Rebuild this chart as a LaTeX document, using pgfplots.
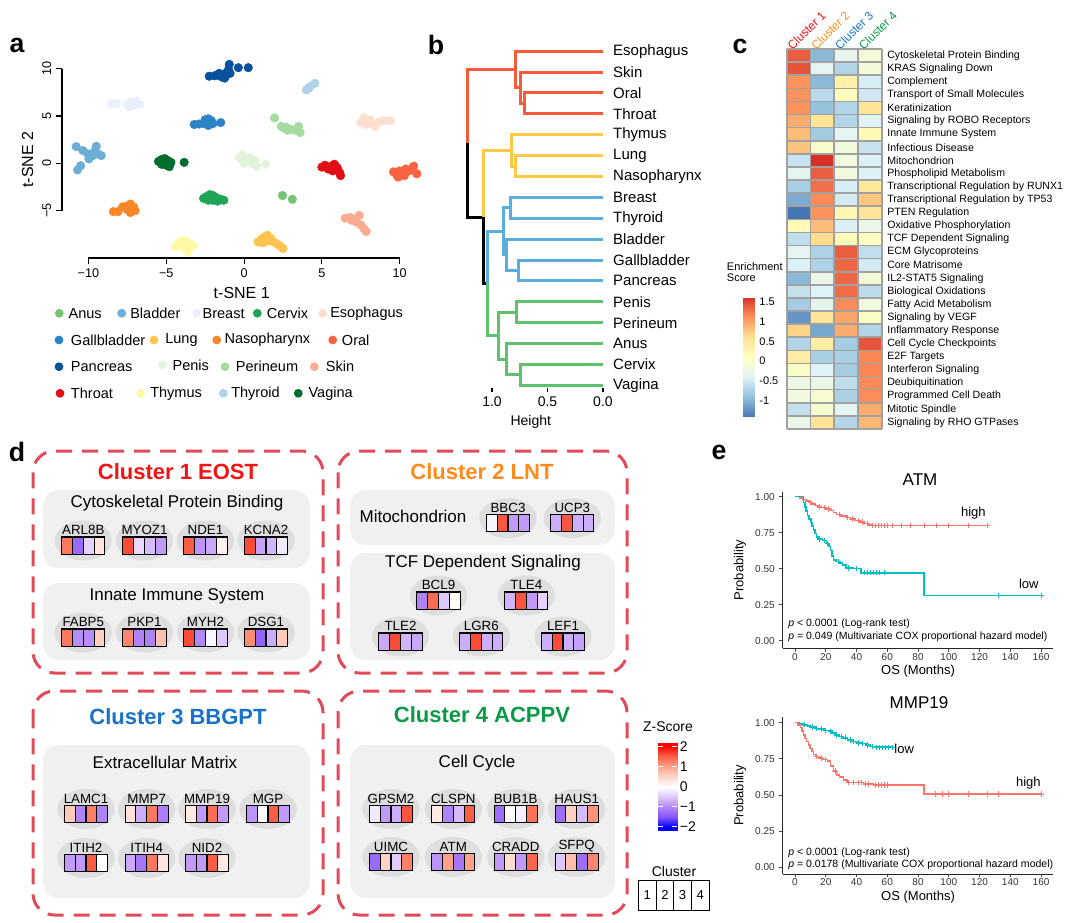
\documentclass[border=0pt]{standalone}
\usepackage{fontspec}
\setmainfont{Liberation Sans}
\usepackage{pgfplots}
\usepackage{pgfplotstable}
\pgfplotsset{compat=1.18}

\newcommand\fsz[1]{\fontsize{#1}{#1}\selectfont}

% tissue colours
\definecolor{cAnus}{HTML}{74C476}
\definecolor{cBladder}{HTML}{6BAED6}
\definecolor{cBreast}{HTML}{EAF0FB}
\definecolor{cCervix}{HTML}{1FA455}
\definecolor{cEsophagus}{HTML}{FDDFD2}
\definecolor{cGallbladder}{HTML}{2B84C6}
\definecolor{cLung}{HTML}{FEC44F}
\definecolor{cNaso}{HTML}{F98628}
\definecolor{cOral}{HTML}{FB6343}
\definecolor{cPancreas}{HTML}{08519C}
\definecolor{cPenis}{HTML}{E3F4DD}
\definecolor{cPerineum}{HTML}{A6DBA0}
\definecolor{cSkin}{HTML}{FCAD91}
\definecolor{cThroat}{HTML}{E00E14}
\definecolor{cThymus}{HTML}{FFF9A6}
\definecolor{cThyroid}{HTML}{B0D3EA}
\definecolor{cVagina}{HTML}{006D2C}
% dendrogram branches
\definecolor{dRed}{HTML}{FA5A3C}
\definecolor{dYel}{HTML}{FFC845}
\definecolor{dBlue}{HTML}{5AAEDC}
\definecolor{dGreen}{HTML}{5EC26C}
% cluster names
\definecolor{k1}{HTML}{F01414}
\definecolor{k2}{HTML}{FF8C1A}
\definecolor{k3}{HTML}{1873C8}
\definecolor{k4}{HTML}{0A9A45}
\definecolor{dashred}{HTML}{DF4B5B}
\definecolor{kmred}{HTML}{F8766D}
\definecolor{kmteal}{HTML}{00BFC4}

\pgfplotsset{
  colormap={rdylbu}{rgb255=(69,117,180) rgb255=(145,191,219) rgb255=(224,243,248)
    rgb255=(255,255,191) rgb255=(254,224,144) rgb255=(252,141,89) rgb255=(215,48,39)},
  colormap={zmap}{rgb255(0pt)=(0,0,255) rgb255(17pt)=(0,0,255) rgb255(67pt)=(135,85,250)
    rgb255(117pt)=(180,135,248) rgb255(167pt)=(222,200,251) rgb255(217pt)=(255,255,255)
    rgb255(267pt)=(255,212,198) rgb255(317pt)=(255,160,135) rgb255(367pt)=(250,95,70)
    rgb255(417pt)=(255,0,0) rgb255(434pt)=(255,0,0)},
  tsne/.style={only marks, mark=*, mark size=3.2pt, color=#1},
  dendro/.style={line width=2.25pt, line join=miter, unbounded coords=jump, color=#1},
  km/.style={scale only axis, width=203pt, xmin=-8, xmax=168,
    axis lines*=left, axis line style={line width=0.7pt, black!85},
    tick align=outside, major tick length=2.5pt, tick style={black!70, line width=0.6pt},
    xtick={0,20,...,160}, ytick={0,0.25,0.5,0.75,1},
    /pgf/number format/assume math mode=true,
    yticklabel style={/pgf/number format/fixed, /pgf/number format/fixed zerofill,
      /pgf/number format/precision=2},
    xticklabel style={yshift=2.5pt},
    ticklabel style={font=\fsz{7.5}, text=black!80},
    xlabel={OS (Months)}, ylabel={Probability},
    label style={font=\fsz{9.75}}, xlabel style={yshift=3pt},
    clip=false},
  kmline/.style={const plot, line width=1.2pt, no marks, color=#1},
  kmcens/.style={only marks, mark=+, mark size=2pt, line width=0.6pt, color=#1},
}

\pgfdeclareplotmark{cell}{%
  \pgfpathrectangle{\pgfqpoint{-4.05pt}{-6.4pt}}{\pgfqpoint{8.1pt}{12.8pt}}%
  \pgfusepathqfillstroke}

\pgfplotstableread{
name  cx    cy    v1    v2    v3    v4
ARL8B 83.3  545.5 1.3   -1.3  -0.4  0.3
MYOZ1 144.5 545.5 1.6   -0.35 -0.6  -0.85
NDE1  205.5 545.5 1.5   -0.9  -0.75 0.15
KCNA2 266   545.5 1.6   -0.8  -0.65 -0.2
FABP5 83.3  637.5 1.3   -0.95 -0.95 0.55
PKP1  144.5 637.5 1.2   -1.05 -1.05 0.7
MYH2  205.5 637.5 1.6   -1.0  -0.08 -0.5
DSG1  266   637.5 1.15  -1.35 -0.7  0.6
BBC3  508   523.3 -0.1  1.55  -0.85 -0.85
UCP3  572.3 523.3 -0.7  1.55  -0.7  -0.7
BCL9  438.5 600.5 -1.05 1.4   -0.5  0.05
TLE4  526.3 600.5 -0.65 1.55  -0.85 -0.4
TLE2  400.5 641.5 -0.75 1.6   -0.65 -0.75
LGR6  481.3 641.5 -0.7  1.6   -0.7  -0.7
LEF1  563   641.5 -0.7  1.6   -0.7  -0.8
LAMC1 86    814   0.6   -1.05 1.25  -1.05
MMP7  146.7 814   0.35  -0.7  1.3   -1.1
MMP19 207   814   0.25  -0.85 1.4   -0.85
MGP   268   814   -0.9  0.05  1.5   -0.85
ITIH2 86    863   -0.85 -0.85 1.5   0.0
ITIH4 146.7 863   -0.75 -1.15 1.3   0.3
NID2  207   863   -0.85 -0.85 1.5   0.25
GPSM2 391   814   -0.2  -0.85 -0.7  1.55
CLSPN 453.3 814   0.25  -1.05 -0.6  1.5
BUB1B 515.7 814   -1.25 0.05  -0.15 1.35
HAUS1 576.7 814   -1.25 0.55  -0.6  1.1
UIMC  391   862   -1.3  0.5   -0.45 1.25
ATM   453.3 862   -0.9  1.0   -1.15 1.0
CRADD 515.7 862   -0.85 0.4   -0.85 1.45
SFPQ  576.7 862   -0.5  0.7   -1.25 1.2
}\genes

\begin{document}
\begin{tikzpicture}[x=0.75pt,y=-0.75pt]
\useasboundingbox (0,0) rectangle (1080,923);

% ---------------- panel letters
\foreach \l/\x/\y in {a/17/45, b/436/45, c/740/46, d/17/452, e/719/452}
  \node[font=\bfseries\fsz{20}] at (\x,\y) {\l};

% ---------------- a: t-SNE
\coordinate (A) at (62,258);
\begin{axis}[at={(A)}, anchor=south west, scale only axis,
  width=269.6pt, height=147.7pt,
  xmin=-11.7, xmax=11.4, ymin=-10, ymax=10.8,
  axis lines*=left, axis line style={draw=none},
  tick align=outside, major tick length=4.5pt, tick style={black, line width=0.8pt},
  xtick={-10,-5,0,5,10}, xticklabels={−10,−5,0,5,10},
  ytick={-5,0,5,10}, yticklabels={−5,0,5,10},
  yticklabel style={rotate=90, anchor=south},
  ticklabel style={font=\fsz{9.5}},
  xlabel={t-SNE 1}, ylabel={t-SNE 2}, label style={font=\fsz{12}},
  clip=false]
\draw[line width=0.8pt] (axis cs:-10,-10) -- (axis cs:10,-10);
\draw[line width=0.8pt] (axis cs:-11.7,-5) -- (axis cs:-11.7,10);
\addplot[tsne=cPancreas] coordinates {(-2.24,9.2) (-1.9,9.25) (-1.7,9.3) (-1.5,9.35) (-1.3,9.4) (-1.2,9.2) (-1.4,9.1) (-1.1,9.6) (-1.0,9.9) (-0.95,10.45) (-1.25,9.0) (-0.9,9.5) (-0.37,10.1) (0.27,10.1) (-1.6,9.5)};
\addplot[tsne=cThyroid] coordinates {(4.0,7.75) (4.15,7.95) (4.25,8.1) (4.55,8.45) (4.1,7.85)};
\addplot[tsne=cBreast] coordinates {(-8.5,6.3) (-8.2,6.3) (-7.5,6.2) (-7.3,6.45) (-7.1,6.1) (-6.9,6.6) (-6.7,6.25) (-7.4,6.0) (-7.0,6.35)};
\addplot[tsne=cGallbladder] coordinates {(-3.2,4.1) (-2.9,4.15) (-2.6,4.2) (-2.4,4.4) (-2.3,4.7) (-2.1,4.5) (-2.0,4.2) (-2.3,4.0) (-2.5,4.6) (-1.5,4.3)};
\addplot[tsne=cPerineum] coordinates {(1.95,4.8) (2.4,3.9) (2.6,3.7) (2.8,3.5) (3.0,3.6) (3.3,3.5) (3.5,3.9) (3.6,3.25) (2.7,3.8)};
\addplot[tsne=cEsophagus] coordinates {(7.5,4.3) (7.7,4.8) (7.8,4.1) (8.0,4.5) (8.2,4.2) (8.4,3.9) (8.7,4.4) (9.0,4.5) (9.4,4.5) (8.1,4.6)};
\addplot[tsne=cBladder] coordinates {(-10.79,1.77) (-9.5,1.8) (-10.36,1.35) (-10.04,1.0) (-9.72,0.82) (-9.4,1.0) (-9.18,0.82) (-9.97,0.46) (-10.5,-0.25) (-10.7,-0.7) (-9.6,1.3)};
\addplot[tsne=cVagina] coordinates {(-5.5,0.2) (-5.3,0.4) (-5.1,0.5) (-4.9,0.3) (-4.7,0.1) (-5.0,-0.2) (-5.3,-0.1) (-4.8,-0.35) (-5.1,0.05) (-3.85,0.1)};
\addplot[tsne=cPenis] coordinates {(-0.3,0.6) (-0.1,0.9) (0.1,0.5) (0.3,0.2) (0.5,0.0) (0.7,0.3) (0.0,0.0) (0.4,0.6) (0.8,-0.3) (1.4,-0.1)};
\addplot[tsne=cThroat] coordinates {(5.0,-0.4) (5.2,-0.2) (5.4,-0.6) (5.6,-0.3) (5.8,-0.1) (6.0,-0.5) (6.15,-1.0) (6.2,-1.3) (5.7,-0.8) (5.3,-0.45) (5.9,-0.3)};
\addplot[tsne=cOral] coordinates {(9.6,-0.9) (9.8,-1.2) (10.0,-0.8) (10.2,-1.1) (10.4,-0.6) (10.6,-0.8) (10.9,-0.3) (11.1,-1.1) (9.9,-1.45) (10.3,-1.3)};
\addplot[tsne=cCervix] coordinates {(-2.6,-3.7) (-2.4,-3.5) (-2.2,-3.3) (-2.0,-3.4) (-1.8,-3.6) (-1.5,-3.8) (-1.3,-3.9) (-2.0,-3.9) (-2.3,-3.9) (-1.7,-4.0)};
\addplot[tsne=cAnus] coordinates {(2.47,-3.4) (3.1,-3.8)};
\addplot[tsne=cNaso] coordinates {(-8.4,-5.1) (-8.1,-5.1) (-7.8,-4.6) (-7.5,-4.5) (-7.3,-4.3) (-7.1,-4.6) (-7.0,-5.0) (-7.3,-5.2) (-7.5,-4.9)};
\addplot[tsne=cSkin] coordinates {(6.5,-5.8) (6.8,-5.7) (7.1,-5.9) (7.4,-5.5) (7.2,-6.2) (7.5,-6.5) (7.7,-6.9) (7.85,-7.2) (6.9,-6.0)};
\addplot[tsne=cThymus] coordinates {(-4.4,-8.8) (-4.2,-8.4) (-4.0,-8.2) (-3.7,-8.2) (-3.5,-8.5) (-3.3,-8.7) (-3.8,-9.0) (-3.6,-9.35) (-4.1,-8.7)};
\addplot[tsne=cLung] coordinates {(0.9,-8.3) (1.1,-8.0) (1.3,-7.8) (1.5,-7.6) (1.7,-7.9) (1.9,-8.3) (2.1,-8.5) (2.3,-8.7) (2.5,-9.0) (1.2,-8.4) (1.6,-8.2)};
\end{axis}

% legend of a
\foreach \c/\mx/\tx/\y/\t in {
  cAnus/59.3/68.3/313.3/Anus, cBladder/121.7/130/313.3/Bladder, cBreast/196.7/202.3/313.3/Breast,
  cCervix/257.3/266.7/313.3/Cervix, cEsophagus/322.7/330/313.3/Esophagus,
  cGallbladder/59/70.7/340/Gallbladder, cLung/154/165/340/Lung, cNaso/216.7/224.3/340/Nasopharynx,
  cOral/332.7/341.7/340/Oral,
  cPancreas/59/70.7/366.7/Pancreas, cPenis/162.7/172.3/365/Penis, cPerineum/225/235.7/366.7/Perineum,
  cSkin/314.3/325.7/366.7/Skin,
  cThroat/60/70.7/393.3/Throat, cThymus/140.7/150/393.3/Thymus, cThyroid/223.3/231/393.3/Thyroid,
  cVagina/298.3/308.3/393.3/Vagina}{
  \fill[\c] (\mx,\y) circle (3.3pt);
  \node[anchor=west, inner sep=0pt, font=\fsz{10.9}] at (\tx,\y) {\t};
}

% ---------------- b: dendrogram
\coordinate (B) at (458.7,388);
\begin{axis}[at={(B)}, anchor=south west, scale only axis,
  width=108.2pt, height=260.4pt,
  x dir=reverse, xmin=0, xmax=1.3, ymin=-16.13, ymax=0.5,
  axis x line*=bottom, axis y line*=right, axis line style={draw=none},
  xtick={0,0.5,1}, xticklabels={0.0,0.5,1.0},
  tick align=outside, major tick length=3pt,
  xtick style={black, line width=0.8pt}, ytick style={draw=none},
  xticklabel style={font=\fsz{10.5}},
  ytick={-16,-15,...,0},
  yticklabels={Vagina,Cervix,Anus,Perineum,Penis,Pancreas,Gallbladder,Bladder,Thyroid,Breast,Nasopharynx,Lung,Thymus,Throat,Oral,Skin,Esophagus},
  yticklabel style={font=\fsz{11.25}, anchor=west, inner sep=0pt, xshift=4.5pt},
  xlabel={Height}, xlabel style={font=\fsz{10.5}},
  clip=false]
\addplot[dendro=dRed] coordinates {(0,-2) (0.709,-2) (0.709,-3) (0,-3) (nan,nan)
  (0,-1) (0.745,-1) (0.745,-2.5) (0.709,-2.5) (nan,nan)
  (0,0) (0.784,0) (0.784,-1.75) (0.745,-1.75) (nan,nan)
  (0.784,-0.875) (1.225,-0.875) (1.225,-4.41)};
\addplot[dendro=black] coordinates {(1.225,-4.41) (1.225,-7.94) (1.075,-7.94) (1.075,-11.125) (1.045,-11.125)};
\addplot[dendro=dYel] coordinates {(0,-5) (0.784,-5) (0.784,-6) (0,-6) (nan,nan)
  (0,-4) (0.826,-4) (0.826,-5.5) (0.784,-5.5) (nan,nan)
  (0.826,-4.75) (1.075,-4.75) (1.075,-7.94)};
\addplot[dendro=dBlue] coordinates {(0,-7) (0.835,-7) (0.835,-8) (0,-8) (nan,nan)
  (0,-10) (0.76,-10) (0.76,-11) (0,-11) (nan,nan)
  (0,-9) (0.865,-9) (0.865,-10.5) (0.76,-10.5) (nan,nan)
  (0.835,-7.5) (0.9,-7.5) (0.9,-9.75) (0.865,-9.75) (nan,nan)
  (0.9,-8.625) (1.045,-8.625) (1.045,-11.125)};
\addplot[dendro=dGreen] coordinates {(0,-12) (0.775,-12) (0.775,-13) (0,-13) (nan,nan)
  (0,-15) (0.745,-15) (0.745,-16) (0,-16) (nan,nan)
  (0,-14) (0.865,-14) (0.865,-15.5) (0.745,-15.5) (nan,nan)
  (0.775,-12.5) (0.94,-12.5) (0.94,-14.75) (0.865,-14.75) (nan,nan)
  (0.94,-13.625) (1.045,-13.625) (1.045,-11.125)};
\end{axis}

% ---------------- c: enrichment heatmap
\coordinate (C) at (786.7,429);
\begin{axis}[at={(C)}, anchor=south west, scale only axis,
  width=71.25pt, height=285pt,
  xmin=0.5, xmax=4.5, ymin=-29.5, ymax=-0.5,
  colormap name=rdylbu, point meta min=-1.42, point meta max=1.65,
  axis line style={draw=none},
  xtick=\empty, ytick={-29,-28,...,-1},
  major tick length=0pt,
  yticklabel pos=right,
  yticklabels={Signaling by RHO GTPases,Mitotic Spindle,Programmed Cell Death,Deubiquitination,Interferon Signaling,E2F Targets,Cell Cycle Checkpoints,Inflammatory Response,Signaling by VEGF,Fatty Acid Metabolism,Biological Oxidations,IL2-STAT5 Signaling,Core Matrisome,ECM Glycoproteins,TCF Dependent Signaling,Oxidative Phosphorylation,PTEN Regulation,Transcriptional Regulation by TP53,Transcriptional Regulation by RUNX1,Phospholipid Metabolism,Mitochondrion,Infectious Disease,Innate Immune System,Signaling by ROBO Receptors,Keratinization,Transport of Small Molecules,Complement,KRAS Signaling Down,Cytoskeletal Protein Binding},
  yticklabel style={font=\fsz{7.95}, anchor=west, inner sep=0pt, xshift=4pt},
  clip=false]
\addplot[matrix plot*, mesh/cols=4, point meta=explicit] table[meta=c] {
x y c
1 -29 -0.25
2 -29 0.55
3 -29 -0.68
4 -29 0.88
1 -28 -0.58
2 -28 -0.05
3 -28 -0.35
4 -28 0.95
1 -27 -0.15
2 -27 -0.02
3 -27 -0.73
4 -27 1.15
1 -26 -0.22
2 -26 -0.25
3 -26 -0.6
4 -26 1.15
1 -25 0.05
2 -25 -0.4
3 -25 -0.78
4 -25 1.18
1 -24 0.4
2 -24 -0.75
3 -24 -0.75
4 -24 1.18
1 -23 -0.7
2 -23 0.4
3 -23 -0.78
4 -23 1.45
1 -22 0.7
2 -22 -1.08
3 -22 0.95
4 -22 -0.7
1 -21 -1.2
2 -21 0.55
3 -21 1.0
4 -21 0.05
1 -20 -0.78
2 -20 -0.33
3 -20 1.15
4 -20 -0.15
1 -19 -0.57
2 -19 -0.4
3 -19 1.32
4 -19 -0.63
1 -18 -0.95
2 -18 -0.25
3 -18 1.35
4 -18 -0.1
1 -17 -0.42
2 -17 -0.72
3 -17 1.35
4 -17 -0.48
1 -16 -0.33
2 -16 -0.72
3 -16 1.4
4 -16 -0.6
1 -15 -0.6
2 -15 0.65
3 -15 0.2
4 -15 0.12
1 -14 0.2
2 -14 0.85
3 -14 -0.43
4 -14 -0.25
1 -13 -1.42
2 -13 1.1
3 -13 0.25
4 -13 0.55
1 -12 -1.05
2 -12 1.15
3 -12 -0.47
4 -12 0.78
1 -11 -0.75
2 -11 1.3
3 -11 -0.45
4 -11 0.5
1 -10 -0.33
2 -10 1.4
3 -10 -0.15
4 -10 -0.42
1 -9 -0.55
2 -9 1.65
3 -9 -0.15
4 -9 -0.42
1 -8 0.8
2 -8 0.0
3 -8 -0.15
4 -8 -0.55
1 -7 0.85
2 -7 -0.8
3 -7 -0.33
4 -7 0.2
1 -6 0.95
2 -6 0.55
3 -6 -0.7
4 -6 -0.38
1 -5 1.1
2 -5 -0.88
3 -5 -0.7
4 -5 0.55
1 -4 1.1
2 -4 -0.65
3 -4 0.15
4 -4 -0.5
1 -3 1.1
2 -3 -0.95
3 -3 0.35
4 -3 -0.45
1 -2 1.45
2 -2 -0.35
3 -2 -0.7
4 -2 -0.1
1 -1 1.4
2 -1 -0.95
3 -1 -0.3
4 -1 -0.1
};
\node[rotate=45, anchor=south west, inner sep=0pt, font=\fsz{9}, text=k1] at (axis cs:0.75,-0.66) {Cluster 1};
\node[rotate=45, anchor=south west, inner sep=0pt, font=\fsz{9}, text=k2] at (axis cs:1.75,-0.66) {Cluster 2};
\node[rotate=45, anchor=south west, inner sep=0pt, font=\fsz{9}, text=k3] at (axis cs:2.75,-0.66) {Cluster 3};
\node[rotate=45, anchor=south west, inner sep=0pt, font=\fsz{9}, text=k4] at (axis cs:3.75,-0.66) {Cluster 4};
\end{axis}
% cell borders of the heatmap
\foreach \k in {0,...,4}
  \draw[black!37, line width=1.2pt] (786.7+\k*23.75,49) -- (786.7+\k*23.75,429);
\foreach \r in {0,...,29}
  \draw[black!37, line width=1.2pt] (786.7,49+\r*13.1034) -- (881.7,49+\r*13.1034);

% colour key of c
\node[anchor=north west, align=left, inner sep=0pt, font=\fsz{8.25}] at (726.7,262) {Enrichment\\Score};
\coordinate (CB) at (743,416.7);
\begin{axis}[at={(CB)}, anchor=south west, scale only axis,
  width=8.25pt, height=89.4pt, xmin=0, xmax=1, ymin=-1.42, ymax=1.62,
  colormap name=rdylbu, point meta min=-1.42, point meta max=1.65,
  axis line style={draw=none}, xtick=\empty, ytick={-1,-0.5,0,0.5,1,1.5},
  yticklabels={-1,-0.5,0,0.5,1,1.5}, yticklabel pos=right, ytick style={draw=none},
  major tick length=0pt, yticklabel style={font=\fsz{8.25}, anchor=west, xshift=0.5pt}]
\addplot[surf, shader=interp, mesh/cols=2, point meta=y] table {
x y
0 -1.42
1 -1.42
0 -0.908
1 -0.908
0 -0.397
1 -0.397
0 0.115
1 0.115
0 0.627
1 0.627
0 1.138
1 1.138
0 1.62
1 1.62
};
\end{axis}

% ---------------- d: cluster boxes
\foreach \xa/\ya/\xb/\yb in {33/451/323/673, 338/451/627/673, 33/691/323/915, 338/691/627/915}
  \draw[draw=dashred, line width=2.25pt, dash pattern=on 12pt off 7.5pt, rounded corners=16pt] (\xa,\ya) rectangle (\xb,\yb);
\node[font=\bfseries\fsz{16.5}, text=k1] at (178,472) {Cluster 1 EOST};
\node[font=\bfseries\fsz{16.5}, text=k2] at (482,472) {Cluster 2 LNT};
\node[font=\bfseries\fsz{16.5}, text=k3] at (178,717) {Cluster 3 BBGPT};
\node[font=\bfseries\fsz{16.5}, text=k4] at (482,715) {Cluster 4 ACPPV};
\foreach \xa/\ya/\xb/\yb in {43/490/310/568, 43/583/310/660, 350/490/615/545, 350/553/615/660, 43/745/310/898, 350/745/615/898}
  \fill[black!6, rounded corners=12pt] (\xa,\ya) rectangle (\xb,\yb);
\node[font=\fsz{12.75}] at (177,503) {Cytoskeletal Protein Binding};
\node[font=\fsz{12.75}] at (177,596) {Innate Immune System};
\node[font=\fsz{12.75}] at (413,516) {Mitochondrion};
\node[font=\fsz{12.75}] at (483,563) {TCF Dependent Signaling};
\node[font=\fsz{12.75}] at (165,762) {Extracellular Matrix};
\node[font=\fsz{12.75}] at (477,763) {Cell Cycle};
\foreach \g/\x/\y in {ARL8B/83.3/545.5, MYOZ1/144.5/545.5, NDE1/205.5/545.5, KCNA2/266/545.5,
  FABP5/83.3/637.5, PKP1/144.5/637.5, MYH2/205.5/637.5, DSG1/266/637.5,
  BBC3/508/523.3, UCP3/572.3/523.3, BCL9/438.5/600.5, TLE4/526.3/600.5,
  TLE2/400.5/641.5, LGR6/481.3/641.5, LEF1/563/641.5,
  LAMC1/86/814, MMP7/146.7/814, MMP19/207/814, MGP/268/814,
  ITIH2/86/863, ITIH4/146.7/863, NID2/207/863,
  GPSM2/391/814, CLSPN/453.3/814, BUB1B/515.7/814, HAUS1/576.7/814,
  UIMC/391/862, ATM/453.3/862, CRADD/515.7/862, SFPQ/576.7/862}{
  \fill[black!13] (\x,\y-5) ellipse [x radius=21.5pt, y radius=15pt];
  \node[font=\fsz{10}, inner sep=0pt] at (\x,\y-15.5) {\g};
}
% Z-score key and cluster key
\node[font=\fsz{10.5}] at (668,727) {Z-Score};
\coordinate (ZB) at (658,830);
\begin{axis}[at={(ZB)}, anchor=south west, scale only axis,
  width=14.25pt, height=65.25pt, xmin=0, xmax=1, ymin=-2.17, ymax=2.17,
  colormap name=zmap, point meta min=-2.17, point meta max=2.17,
  axis line style={draw=none}, axis on top, xtick=\empty,
  ytick={-2,-1,0,1,2}, yticklabels={−2,−1,0,1,2},
  ytick pos=both, yticklabel pos=right, tick align=inside, major tick length=3.5pt,
  ytick style={white, line width=0.9pt},
  yticklabel style={font=\fsz{10.5}, anchor=west, inner sep=0pt, xshift=2pt}]
\addplot[surf, shader=interp, mesh/cols=2, point meta=y] table {
x y
0 -2.17
1 -2.17
0 -2
1 -2
0 -1.5
1 -1.5
0 -1
1 -1
0 -0.5
1 -0.5
0 0
1 0
0 0.5
1 0.5
0 1
1 1
0 1.5
1 1.5
0 2
1 2
0 2.17
1 2.17
};
\end{axis}
\node[font=\fsz{10.5}] at (674,871) {Cluster};
\draw[line width=0.75pt] (638.3,880) rectangle (709,910)
  (656,880) -- (656,910) (673.7,880) -- (673.7,910) (691.3,880) -- (691.3,910);
\foreach \k/\x in {1/647.2, 2/664.9, 3/682.5, 4/700.2}
  \node[font=\fsz{9.75}] at (\x,895) {\k};

% gene z-score strips
\coordinate (D) at (0,923);
\begin{axis}[at={(D)}, anchor=south west, scale only axis,
  width=810pt, height=692.25pt, xmin=0, xmax=1080, ymin=-923, ymax=0,
  hide axis, colormap name=zmap, point meta min=-2.17, point meta max=2.17,
  clip=false]
\pgfplotsinvokeforeach{1,2,3,4}{
  \addplot[scatter, only marks, mark=cell, mark options={line width=0.8pt},
    scatter/use mapped color={draw=black, fill=mapped color}, point meta=explicit]
    table[x expr=\thisrow{cx}+(#1-2.5)*10.8, y expr=-\thisrow{cy}, meta=v#1] {\genes};
}
\end{axis}

% ---------------- e: survival curves
\node[font=\fsz{12.75}] at (920,480) {ATM};
\coordinate (E1) at (782.7,648.3);
\begin{axis}[at={(E1)}, anchor=south west, km, height=117.5pt, ymin=-0.053, ymax=1.035]
\addplot[kmline=kmred] coordinates {(0,1) (3,0.99) (5,0.98) (7,0.97) (9,0.96) (11,0.95) (13,0.94) (15,0.93) (17,0.925) (20,0.915) (23,0.905) (25,0.89) (27,0.875) (30,0.865) (33,0.855) (36,0.845) (39,0.835) (42,0.825) (45,0.815) (48,0.805) (50,0.80) (125,0.80)};
\addplot[kmcens=kmred] coordinates {(10,0.96) (16,0.93) (19,0.925) (22,0.915) (29,0.875) (34,0.855) (37,0.845) (41,0.835) (44,0.825) (47,0.815) (50,0.80) (52,0.80) (54,0.80) (56,0.80) (58,0.80) (60,0.80) (63,0.80) (69,0.80) (75,0.80) (84,0.80) (92,0.80) (100,0.80) (113,0.80) (125,0.80)};
\addplot[kmline=kmteal] coordinates {(0,1) (5.4,0.96) (6.3,0.93) (7.2,0.90) (8.2,0.87) (9.2,0.845) (10.2,0.82) (11,0.795) (12,0.77) (13,0.745) (14,0.72) (15,0.705) (18,0.695) (20.5,0.675) (22,0.655) (23,0.625) (24,0.59) (25,0.56) (27,0.55) (29,0.54) (31,0.525) (33,0.505) (38,0.50) (43,0.472) (84,0.315) (160,0.315)};
\addplot[kmcens=kmteal] coordinates {(16,0.705) (19,0.695) (21,0.675) (28,0.55) (35,0.505) (40,0.50) (45,0.472) (47,0.472) (49,0.472) (51,0.472) (53,0.472) (55,0.472) (58,0.472) (132,0.315) (160,0.315)};
\node[font=\fsz{9.75}] at (axis cs:116,0.887) {high};
\node[font=\fsz{9.75}] at (axis cs:152,0.393) {low};
\end{axis}
\node[anchor=west, inner sep=0pt, font=\fsz{7.9}] at (788,624) {\textit{p} < 0.0001 (Log-rank test)};
\node[anchor=west, inner sep=0pt, font=\fsz{7.9}] at (788,637) {\textit{p} = 0.049 (Multivariate COX proportional hazard model)};

\node[font=\fsz{12.75}] at (919,703) {MMP19};
\coordinate (E2) at (782.7,874);
\begin{axis}[at={(E2)}, anchor=south west, km, height=118pt, ymin=-0.046, ymax=1.041]
\addplot[kmline=kmteal] coordinates {(0,1) (3,0.99) (5,0.985) (8,0.975) (10,0.97) (13,0.96) (16,0.955) (19,0.945) (22,0.94) (24,0.93) (26,0.915) (29,0.905) (31,0.895) (34,0.88) (37,0.87) (40,0.86) (43,0.855) (46,0.845) (49,0.835) (52,0.83) (63,0.83)};
\addplot[kmcens=kmteal] coordinates {(6,0.985) (11,0.97) (14,0.96) (17,0.955) (20,0.945) (23,0.94) (27,0.915) (30,0.905) (33,0.895) (36,0.88) (38,0.87) (41,0.86) (44,0.855) (47,0.845) (50,0.835) (53,0.83) (55,0.83) (57,0.83) (59,0.83) (61,0.83) (63,0.83)};
\addplot[kmline=kmred] coordinates {(0,1) (2,0.985) (3.5,0.965) (4.5,0.94) (5.5,0.915) (6.5,0.89) (7.5,0.87) (8.7,0.845) (9.8,0.82) (10.9,0.80) (12,0.78) (13.5,0.765) (15.5,0.755) (18,0.745) (21,0.735) (23,0.70) (25,0.665) (27,0.64) (29,0.625) (31.5,0.605) (33.7,0.585) (44.5,0.576) (51,0.57) (84,0.507) (160,0.507)};
\addplot[kmcens=kmred] coordinates {(14,0.765) (17,0.755) (20,0.745) (26,0.665) (35,0.585) (38,0.585) (41,0.585) (43,0.585) (46,0.576) (48,0.576) (52,0.57) (54,0.57) (56,0.57) (58,0.57) (60,0.57) (91,0.507) (96,0.507) (100,0.507) (113,0.507) (125,0.507) (132,0.507) (160,0.507)};
\node[font=\fsz{9.75}] at (axis cs:71,0.818) {low};
\node[font=\fsz{9.75}] at (axis cs:151.7,0.585) {high};
\end{axis}
\node[anchor=west, inner sep=0pt, font=\fsz{7.9}] at (788,852.7) {\textit{p} < 0.0001 (Log-rank test)};
\node[anchor=west, inner sep=0pt, font=\fsz{7.9}] at (788,865) {\textit{p} = 0.0178 (Multivariate COX proportional hazard model)};
\end{tikzpicture}
\end{document}
